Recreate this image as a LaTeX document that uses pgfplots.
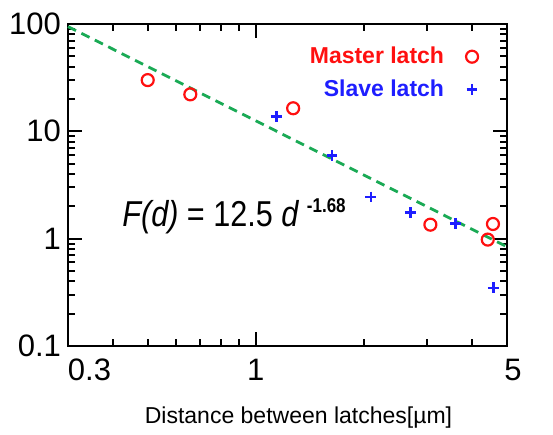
\documentclass[border=0pt]{standalone}
\usepackage{fontspec}
\setmainfont{Liberation Sans}
\newfontfamily\narrowfont[FakeStretch=0.85]{Liberation Sans}
\usepackage{pgfplots}
\pgfplotsset{compat=1.18}
\definecolor{mred}{HTML}{FF1010}
\definecolor{sblue}{HTML}{1E1EFF}
\definecolor{fitgreen}{HTML}{1AAA55}

\begin{document}
\begin{tikzpicture}
  \begin{axis}[
    at={(0,0)},anchor=south west,
    scale only axis,width=219.5pt,height=161pt,
    xmode=log,ymode=log,
    xmin=0.3,xmax=5,ymin=0.1,ymax=100,
    xtick={0.3,1,5},xticklabels={\makebox[0pt][l]{0.3},1,\hspace*{6pt}5},
    minor xtick={0.4,0.5,0.6,0.7,0.8,0.9,2,3,4},
    ytick={0.1,1,10,100},yticklabels={0.1,1,10,100},
    minor ytick={0.2,0.3,0.4,0.5,0.6,0.7,0.8,0.9,2,3,4,5,6,7,8,9,20,30,40,50,60,70,80,90},
    tick align=inside,
    major tick length=7pt,minor tick length=3.5pt,
    tick style={black,line width=1pt},
    axis line style={line width=1.3pt},
    ticklabel style={font=\fontsize{15.5}{15.5}\selectfont},
    /pgf/number format/assume math mode=true,
    xticklabel style={yshift=-3pt},
    xlabel={Distance between latches[\textmu m]},
    xlabel style={font=\fontsize{11.5}{11.5}\selectfont,yshift=-6pt,xshift=5.5pt},
    legend plot pos=right,
    legend style={draw=none,fill=none,at={(rel axis cs:0.935,0.955)},anchor=north east,
      font=\fontsize{11.5}{11.5}\selectfont\bfseries,row sep=2.5pt,
      cells={anchor=east},inner xsep=0pt,
      nodes={inner xsep=2pt}},
    clip=false,
  ]
    \addplot[only marks,mark=o,mark size=3pt,mred,mark options={line width=1.1pt}] coordinates {
      (0.50,30.0) (0.657,22.1) (1.27,16.4) (3.06,1.35) (4.42,0.98) (4.57,1.37)};
    \addlegendentry{\textcolor{mred}{Master latch}\hspace*{9pt}}
    \addplot[only marks,mark=+,mark size=2.7pt,sblue,mark options={line width=1.3pt}] coordinates {
      (1.14,13.7) (1.63,5.92) (2.09,2.44) (2.69,1.75) (3.59,1.39) (4.58,0.348)};
    \addlegendentry{\textcolor{sblue}{Slave latch}\hspace*{9pt}}
    \addplot[fitgreen,line width=1.4pt,dash pattern=on 4.5pt off 3pt,forget plot] coordinates {
      (0.3,94.5) (5,0.84)};
    \node[anchor=base west,inner sep=0pt] at (rel axis cs:0.123,0.37)
      {\narrowfont\fontsize{18}{18}\selectfont\itshape F(d)\upshape{} = 12.5 \itshape d\upshape\ \raisebox{7pt}{\fontsize{10}{10}\selectfont\bfseries -1.68}};
  \end{axis}
  \path (-34pt,-40pt) rectangle (242.5pt,173pt);
\end{tikzpicture}
\end{document}
